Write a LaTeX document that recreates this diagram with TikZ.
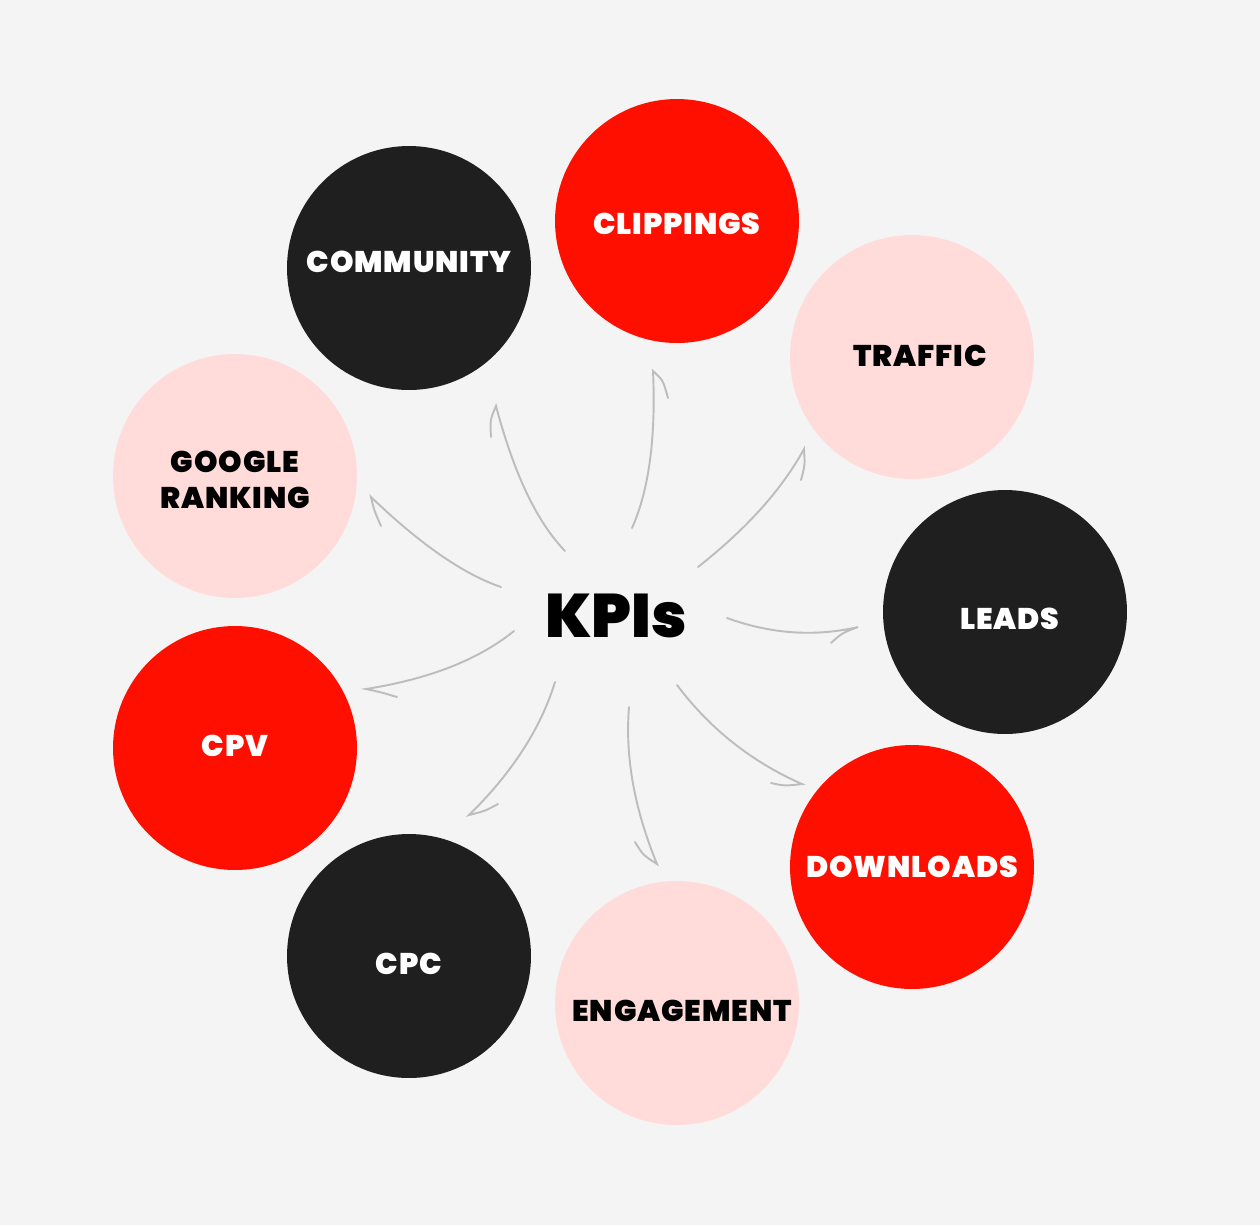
\documentclass[tikz,border=0pt]{standalone}
\usepackage{fontspec}
\setmainfont{Poppins}
\newfontfamily\lblfont{Poppins Black}[LetterSpace=3]
\newfontfamily\hubfont{Poppins Black}
\usetikzlibrary{positioning}
\definecolor{bgpaper}{HTML}{F4F4F4}
\definecolor{kpiink}{HTML}{1F1F1F}
\definecolor{kpired}{HTML}{FF0F00}
\definecolor{kpipink}{HTML}{FFDCDA}
\definecolor{arrowgray}{HTML}{BDBDBD}

\begin{document}
\begin{tikzpicture}[
    x=0.02cm, y=-0.02cm,
    kpi/.style={
      circle,
      minimum size=4.88cm,
      inner sep=0pt
    },
    lbl/.style={
      align=center,
      font=\fontsize{17}{20.5}\selectfont\lblfont
    },
    flow/.style={
      draw=arrowgray,
      line width=1.1pt,
      line cap=round
    }
  ]

  % background
  \fill[bgpaper] (0,0) rectangle (1260,1225);
  \useasboundingbox (0,0) rectangle (1260,1225);

  % Center
  \node[font=\fontsize{35}{40}\selectfont\hubfont] (kpis) at (616,616) {KPIs};

  % Circles
  \node[kpi, fill=kpiink] (community) at (409,268) {};
  \node[kpi, fill=kpired] (clippings) at (677,221) {};
  \node[kpi, fill=kpipink] (traffic) at (912,357) {};
  \node[kpi, fill=kpiink] (leads) at (1005,612) {};
  \node[kpi, fill=kpired] (downloads) at (912,867) {};
  \node[kpi, fill=kpipink] (engagement) at (677,1003) {};
  \node[kpi, fill=kpiink] (cpc) at (409,956) {};
  \node[kpi, fill=kpired] (cpv) at (235,748) {};
  \node[kpi, fill=kpipink] (google) at (235,476) {};

  % Labels
  \node[lbl, text=white] (communitytxt) at (409,262) {COMMUNITY};
  \node[lbl, text=white] (clippingstxt) at (677,224) {CLIPPINGS};
  \node[lbl, text=black] (traffictxt) at (920,356) {TRAFFIC};
  \node[lbl, text=white] (leadstxt) at (1010,619) {LEADS};
  \node[lbl, text=white] (downloadstxt) at (912,867) {DOWNLOADS};
  \node[lbl, text=black] (engagementtxt) at (682,1011) {ENGAGEMENT};
  \node[lbl, text=white] (cpctxt) at (409,964) {CPC};
  \node[lbl, text=white] (cpvtxt) at (235,746) {CPV};
  \node[lbl, text=black] (googletxt) at (235,480) {GOOGLE\\RANKING};

  % Arrow ends
  \coordinate (s1) at (565,551); \coordinate (t1) at (496,406);
  \coordinate (s2) at (632,528); \coordinate (t2) at (653,371);
  \coordinate (s3) at (698,567); \coordinate (t3) at (804,449);
  \coordinate (s4) at (727,618); \coordinate (t4) at (858,627);
  \coordinate (s5) at (677,685); \coordinate (t5) at (802,784);
  \coordinate (s6) at (629,707); \coordinate (t6) at (657,864);
  \coordinate (s7) at (555,682); \coordinate (t7) at (469,815);
  \coordinate (s8) at (514,631); \coordinate (t8) at (366,689);
  \coordinate (s9) at (501,587); \coordinate (t9) at (371,497);

  % Arrows
  \draw[flow] (s1) .. controls (537,522) and (514,474) .. (t1) .. controls (490,420) .. (491,437);
  \draw[flow] (s2) .. controls (649,490) and (656,437) .. (t2) .. controls (663,380) .. (668,398);
  \draw[flow] (s3) .. controls (745,530) and (781,491) .. (t3) .. controls (805,465) .. (801,480);
  \draw[flow] (s4) .. controls (771,634) and (815,637) .. (t4) .. controls (842,633) .. (831,643);
  \draw[flow] (s5) .. controls (710,729) and (752,762) .. (t5) .. controls (785,786) .. (771,783);
  \draw[flow] (s6) .. controls (625,756) and (634,808) .. (t6) .. controls (643,855) .. (635,842);
  \draw[flow] (s7) .. controls (541,728) and (512,773) .. (t7) .. controls (485,811) .. (498,804);
  \draw[flow] (s8) .. controls (478,660) and (429,679) .. (t8) .. controls (380,692) .. (397,697);
  \draw[flow] (s9) .. controls (463,574) and (420,544) .. (t9) .. controls (374,510) .. (381,526);

\end{tikzpicture}
\end{document}
